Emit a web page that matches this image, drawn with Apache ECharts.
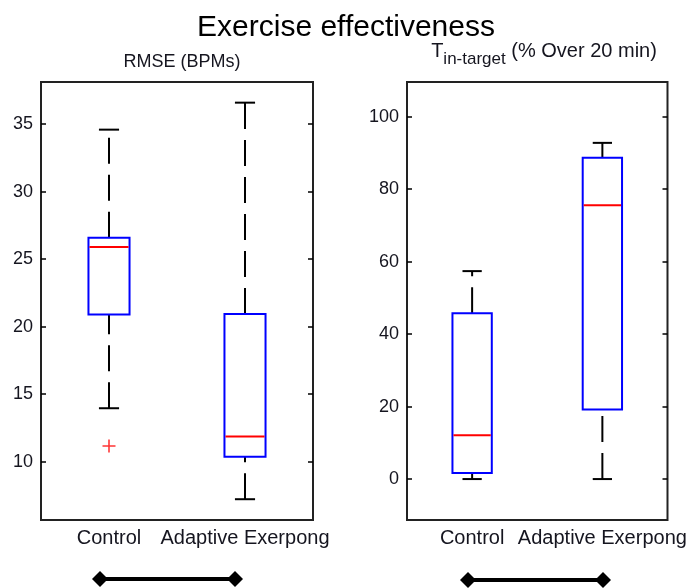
<!DOCTYPE html>
<html><head><meta charset="utf-8">
<script src="https://cdn.jsdelivr.net/npm/echarts@6/dist/echarts.min.js"></script>
<style>html,body{margin:0;padding:0;background:#fff}#c{width:689px;height:588px}</style>
</head><body><div id="c"></div>
<script>
const categories = ['Control', 'Adaptive Exerpong'];
// [lowerWhisker, Q1, median, Q3, upperWhisker]
const rmseControl = [13.96, 20.9, 25.9, 26.6, 34.6];
const rmseAdaptive = [7.22, 10.37, 11.86, 20.95, 36.6];
const rmseOutliers = [[0, 11.16]];
const tinControl = [0, 1.7, 12.1, 45.8, 57.4];
const tinAdaptive = [0, 19.2, 75.6, 88.7, 92.8];
const rmseTicks = [10, 15, 20, 25, 30, 35];
const tinTicks = [0, 20, 40, 60, 80, 100];
const rmseRange = [5.68, 38.13];
const tinRange = [-11.3, 109.6];
const sigLeft = [0.5, 0.5];
const sigRight = [0.5, 0.5];

const FONT = "'Liberation Sans', Arial, sans-serif";
const TXT = '#15151f';
const chart = echarts.init(document.getElementById('c'), null, {renderer: 'canvas'});

function renderBox(params, api) {
  const c = api.value(0);
  const p = i => api.coord([c, api.value(i)]);
  const lo = p(1), q1 = p(2), md = p(3), q3 = p(4), hi = p(5);
  const band = api.size([1, 0])[0];
  const boxW = band * 0.302, h = boxW / 2, cap = band * 0.074;
  const cx = lo[0];
  const dash = {stroke: '#000', lineWidth: 2, lineDash: [26, 11]};
  const solid = {stroke: '#000', lineWidth: 2};
  return {type: 'group', children: [
    {type: 'line', shape: {x1: cx, y1: lo[1], x2: cx, y2: q1[1]}, style: dash},
    {type: 'line', shape: {x1: cx, y1: q3[1], x2: cx, y2: hi[1]}, style: dash},
    {type: 'line', shape: {x1: cx - cap, y1: lo[1], x2: cx + cap, y2: lo[1]}, style: solid},
    {type: 'line', shape: {x1: cx - cap, y1: hi[1], x2: cx + cap, y2: hi[1]}, style: solid},
    {type: 'rect', shape: {x: cx - h, y: q3[1], width: boxW, height: q1[1] - q3[1]}, style: {fill: '#fff', stroke: '#0000ff', lineWidth: 2}},
    {type: 'line', shape: {x1: cx - h + 1, y1: md[1], x2: cx + h - 1, y2: md[1]}, style: {stroke: '#ff0000', lineWidth: 2}}
  ]};
}

function yAxes(range, ticks, gridIndex) {
  const base = {
    type: 'value', gridIndex, min: range[0], max: range[1],
    splitLine: {show: false}, axisLine: {show: false},
    axisTick: {show: true, inside: true, length: 5, customValues: ticks, lineStyle: {color: '#000', width: 1.5}}
  };
  return [
    Object.assign({}, base, {position: 'left', axisLabel: {customValues: ticks, margin: 8, fontSize: 18, color: TXT, fontFamily: FONT}}),
    Object.assign({}, base, {position: 'right', axisLabel: {show: false}})
  ];
}

const xCat = (gridIndex, show) => ({
  type: 'category', gridIndex, data: categories, boundaryGap: true,
  axisLine: {show: false}, axisTick: {show: false}, splitLine: {show: false},
  axisLabel: {show: show, margin: 8, fontSize: 20, color: TXT, fontFamily: FONT, interval: 0}
});

const plusSymbol = 'path://M0,4.4H4.4V0H5.6V4.4H10V5.6H5.6V10H4.4V5.6H0Z';

const option = {
  animation: false,
  backgroundColor: '#fff',
  title: [
    {text: 'Exercise effectiveness', left: 341, top: 8, textAlign: 'center',
     textStyle: {fontSize: 30, fontWeight: 'normal', color: '#000', fontFamily: FONT}},
    {text: 'RMSE (BPMs)', left: 177, top: 48, textAlign: 'center',
     textStyle: {fontSize: 18, fontWeight: 'normal', color: TXT, fontFamily: FONT}},
    {text: '{t|T}{s|in-target}{m| (% Over 20 min)}', left: 539, top: 36, textAlign: 'center',
     textStyle: {fontFamily: FONT, color: TXT, fontWeight: 'normal',
       rich: {
         t: {fontSize: 20, fontFamily: FONT, color: TXT, verticalAlign: 'top'},
         m: {fontSize: 20, fontFamily: FONT, color: TXT, verticalAlign: 'top'},
         s: {fontSize: 17, fontFamily: FONT, color: TXT, padding: [10, 0, 0, 0], verticalAlign: 'bottom'}
       }}}
  ],
  grid: [
    {left: 41, width: 272, top: 82, height: 438, show: true, borderColor: '#222', borderWidth: 2, backgroundColor: '#fff'},
    {left: 407, width: 264, top: 82, height: 438, show: true, borderColor: '#222', borderWidth: 2, backgroundColor: '#fff'},
    {left: 32.5, width: 270, top: 570, height: 20},
    {left: 400.5, width: 270, top: 572, height: 20}
  ],
  xAxis: [xCat(0, true), xCat(1, true), xCat(2, false), xCat(3, false)],
  yAxis: [
    ...yAxes(rmseRange, rmseTicks, 0),
    ...yAxes(tinRange, tinTicks, 1),
    {type: 'value', gridIndex: 2, min: 0, max: 1, show: false},
    {type: 'value', gridIndex: 3, min: 0, max: 1, show: false}
  ],
  series: [
    {type: 'custom', xAxisIndex: 0, yAxisIndex: 0, renderItem: renderBox,
     encode: {x: 0, y: [1, 2, 3, 4, 5]},
     data: [[0, ...rmseControl], [1, ...rmseAdaptive]]},
    {type: 'scatter', xAxisIndex: 0, yAxisIndex: 0, data: rmseOutliers,
     symbol: plusSymbol, symbolSize: 13, itemStyle: {color: '#ff0000'}, z: 5},
    {type: 'custom', xAxisIndex: 1, yAxisIndex: 2, renderItem: renderBox,
     encode: {x: 0, y: [1, 2, 3, 4, 5]},
     data: [[0, ...tinControl], [1, ...tinAdaptive]]},
    {type: 'line', xAxisIndex: 2, yAxisIndex: 4, data: sigLeft, symbol: 'diamond', symbolSize: [16, 16],
     showSymbol: true, itemStyle: {color: '#000'}, lineStyle: {color: '#000', width: 4}},
    {type: 'line', xAxisIndex: 3, yAxisIndex: 5, data: sigRight, symbol: 'diamond', symbolSize: [16, 16],
     showSymbol: true, itemStyle: {color: '#000'}, lineStyle: {color: '#000', width: 4}}
  ]
};
chart.setOption(option);
</script></body></html>
